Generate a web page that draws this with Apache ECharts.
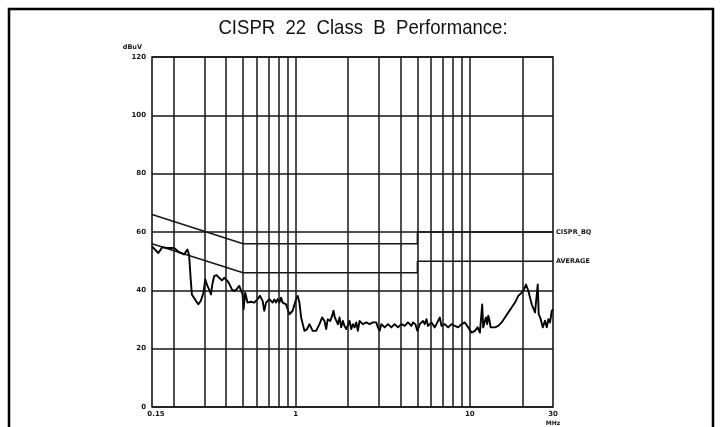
<!DOCTYPE html>
<html>
<head>
<meta charset="utf-8">
<script src="https://cdn.jsdelivr.net/npm/echarts@6/dist/echarts.min.js"></script>
<style>
  html, body { margin: 0; padding: 0; background: #fff; }
  #chart { width: 722px; height: 427px; }
</style>
</head>
<body>
<div id="chart"></div>
<script>
// Conducted emission scan, 0.15–30 MHz (peak detector)
const freqMHz = [
  0.150, 0.154, 0.163, 0.172, 0.183, 0.201, 0.206, 0.2145, 0.229, 0.2395,
  0.245, 0.250, 0.254, 0.268, 0.277, 0.286, 0.296, 0.303, 0.312, 0.319,
  0.327, 0.333, 0.341, 0.352, 0.364, 0.378, 0.389, 0.398, 0.407, 0.416,
  0.431, 0.444, 0.458, 0.475, 0.486, 0.496, 0.503, 0.514, 0.530, 0.555,
  0.580, 0.605, 0.625, 0.647, 0.661, 0.677, 0.707, 0.723, 0.738, 0.755,
  0.772, 0.789, 0.807, 0.825, 0.843, 0.882, 0.921, 0.942, 0.962, 1.007,
  1.028, 1.052, 1.076, 1.099, 1.124, 1.164, 1.200,
  1.254, 1.312, 1.371, 1.421, 1.465, 1.498, 1.530, 1.580, 1.622, 1.650,
  1.679, 1.710, 1.748, 1.787, 1.827, 1.868, 1.908, 1.953, 1.995, 2.040,
  2.086, 2.131, 2.180, 2.229, 2.277, 2.329, 2.433, 2.545, 2.659, 2.778,
  2.906, 2.968, 3.036, 3.105, 3.244, 3.389, 3.544, 3.703,
  3.869, 4.047, 4.227, 4.416, 4.620, 4.718, 4.870, 5.001, 5.157, 5.388,
  5.510, 5.636, 5.756, 6.021, 6.291, 6.434, 6.571, 6.721, 6.874, 7.182,
  7.503, 7.848, 8.199, 8.567, 8.961, 9.361, 9.780, 10.23, 10.69, 11.08,
  11.42, 11.77, 11.93,
  12.36, 12.58, 12.75, 12.92, 13.16, 13.38, 13.93, 14.55, 15.22, 15.90,
  16.61, 17.37, 18.15, 18.96, 19.84, 20.46, 21.00, 21.66, 22.15, 22.65,
  23.66, 24.19, 24.52, 24.84, 25.51, 26.20, 27.01, 27.63, 28.22, 28.86,
  29.52, 30.00
];
const levelDbuv = [
  55.1, 54.5, 52.8, 54.8, 54.5, 54.5, 54.8, 53.1, 52.3, 54.0,
  52.0, 44.0, 38.6, 36.4, 35.2, 36.4, 39.2, 43.8, 41.5, 40.3,
  38.6, 42.1, 44.9, 45.2, 44.3, 43.4, 44.3, 43.8, 43.2, 42.3,
  40.3, 39.8, 40.3, 41.5, 40.9, 38.6, 33.5, 39.2, 35.8, 36.1,
  35.8, 37.0, 38.1, 36.4, 33.0, 35.8, 37.0, 37.5, 35.8, 36.9,
  35.8, 37.0, 35.8, 37.5, 35.8, 35.2, 31.8, 31.5, 33.0, 37.0,
  38.1, 35.8, 30.7, 28.5, 26.1, 26.7, 28.4,
  26.1, 26.1, 28.4, 30.7, 29.5, 26.7, 30.1, 29.5, 31.3, 33.0,
  30.7, 30.1, 28.4, 30.7, 27.3, 29.5, 27.8, 26.7, 26.1, 29.5,
  26.7, 28.4, 27.3, 29.0, 26.1, 29.5, 28.4, 29.0, 28.4, 29.0,
  29.0, 27.3, 26.1, 28.4, 27.3, 28.4, 27.3, 28.4,
  27.3, 28.4, 27.8, 29.0, 27.8, 29.0, 28.4, 26.1, 28.4, 29.5,
  28.4, 30.1, 27.8, 29.0, 27.3, 28.4, 29.0, 30.7, 27.8, 28.4,
  27.3, 28.4, 27.8, 27.3, 28.4, 29.0, 27.3, 25.5, 26.1, 27.3,
  25.5, 35.2, 27.3,
  30.7, 28.4, 31.3, 30.1, 27.3, 26.7, 27.3, 27.8, 29.0, 30.7,
  32.4, 34.1, 35.8, 38.1, 39.2, 40.3, 42.0, 39.8, 37.5, 35.2,
  32.4, 31.8, 42.0, 31.8, 30.1, 27.3, 29.6, 27.3, 30.1, 29.0,
  33.0, 33.5
];

// CISPR 22 Class B limits (quasi-peak and average)
const qpLimitFreq = [0.15, 0.5, 5, 5, 30];
const qpLimitDb   = [66, 56, 56, 60, 60];
const avLimitFreq = [0.15, 0.5, 5, 5, 30];
const avLimitDb   = [56, 46, 46, 50, 50];

// Log-paper grid: decades plus intermediate lines
const gridFreqs = [0.2, 0.3, 0.4, 0.5, 0.6, 0.7, 0.8, 0.9, 1,
                   2, 3, 4, 5, 6, 7, 8, 9, 10, 20];
const xTickLabels = [0.15, 1, 10, 30];

const pairs = (xs, ys) => xs.map((x, i) => [x, ys[i]]);

const INK = '#161616';
const labelFont = { fontFamily: 'DejaVu Sans', fontWeight: 'bold', fontSize: 7, color: INK };

const chart = echarts.init(document.getElementById('chart'), null, { renderer: 'canvas' });

chart.setOption({
  backgroundColor: '#ffffff',
  animation: false,
  graphic: [
    {
      type: 'rect',
      shape: { x: 9, y: 9, width: 704, height: 430 },
      style: { fill: 'none', stroke: '#000', lineWidth: 2.5 },
      silent: true
    },
    {
      // condensed heading
      type: 'text',
      x: 363, y: 28,
      scaleX: 0.885,
      style: {
        text: 'CISPR  22  Class  B  Performance:',
        font: '21px "Liberation Sans", Arial, sans-serif',
        fill: '#111',
        textAlign: 'center',
        textVerticalAlign: 'middle'
      },
      silent: true
    }
  ],
  grid: {
    left: 152, right: 169, top: 57, bottom: 17,
    show: true, borderColor: INK, borderWidth: 1.6, backgroundColor: 'transparent'
  },
  xAxis: {
    type: 'log', logBase: 10, min: 0.15, max: 30,
    axisLine: { show: false },
    axisTick: { show: false },
    splitLine: { show: false },
    axisLabel: Object.assign({}, labelFont, {
      customValues: xTickLabels,
      margin: 3,
      formatter: v => {
        const r = Math.round(v * 100) / 100;
        if (r === 0.15) return '{lead|0.15}';
        if (r === 30) return '30\n{u|MHz}';
        return String(r);
      },
      rich: {
        lead: Object.assign({}, labelFont, { padding: [0, 0, 0, 8] }),
        u: Object.assign({}, labelFont, { fontSize: 6, lineHeight: 8 })
      },
      lineHeight: 9
    })
  },
  yAxis: {
    type: 'value', min: 0, max: 120, interval: 20,
    name: 'dBuV',
    nameLocation: 'end',
    nameGap: 6,
    nameTextStyle: Object.assign({}, labelFont, { fontSize: 6.5, align: 'right', padding: [0, 10, 0, 0] }),
    axisLine: { show: false },
    axisTick: { show: false },
    axisLabel: Object.assign({}, labelFont, { margin: 6 }),
    splitLine: { show: true, lineStyle: { color: INK, width: 1.5 } }
  },
  series: [
    {
      name: 'grid',
      type: 'line',
      data: [],
      silent: true,
      markLine: {
        silent: true,
        symbol: 'none',
        label: { show: false },
        lineStyle: { color: INK, width: 1.5, type: 'solid' },
        data: gridFreqs.map(f => ({ xAxis: f }))
      }
    },
    {
      name: 'CISPR_BQ',
      type: 'line',
      data: pairs(qpLimitFreq, qpLimitDb),
      showSymbol: false,
      lineStyle: { color: INK, width: 1.5 },
      silent: true,
      endLabel: { show: true, formatter: 'CISPR_BQ', distance: 3, ...labelFont, fontSize: 6.5 }
    },
    {
      name: 'AVERAGE',
      type: 'line',
      data: pairs(avLimitFreq, avLimitDb),
      showSymbol: false,
      lineStyle: { color: INK, width: 1.5 },
      silent: true,
      endLabel: { show: true, formatter: 'AVERAGE', distance: 3, ...labelFont, fontSize: 6.5 }
    },
    {
      name: 'scan',
      type: 'line',
      data: pairs(freqMHz, levelDbuv),
      showSymbol: false,
      smooth: false,
      lineStyle: { color: '#000', width: 1.9, join: 'round' },
      silent: true
    }
  ]
});
</script>
</body>
</html>
